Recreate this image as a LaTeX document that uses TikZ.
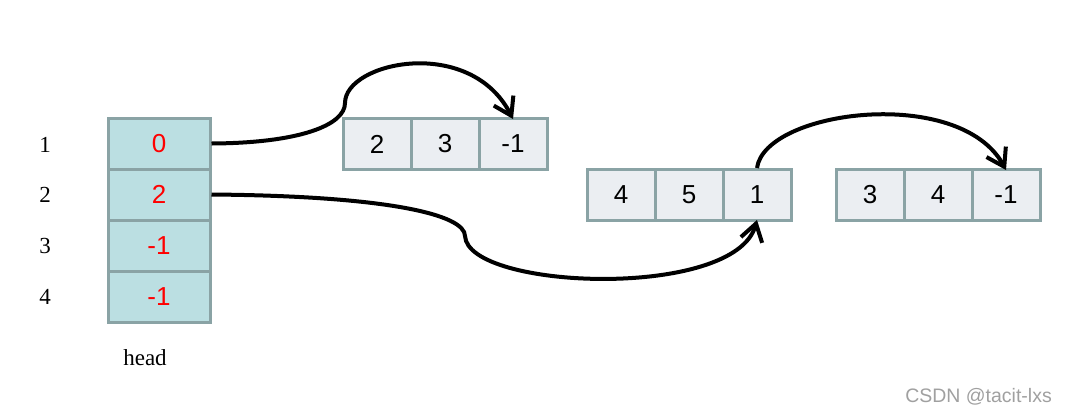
\documentclass[tikz,border=0pt]{standalone}
\usepackage{fontspec}
\setmainfont{Liberation Serif}
\setsansfont{Liberation Sans}
\usetikzlibrary{arrows.meta}
\definecolor{headfill}{HTML}{BBDFE2}
\definecolor{listfill}{HTML}{EBEEF2}
\definecolor{cellline}{HTML}{8AA3A5}
\definecolor{wm}{HTML}{A0A0A0}
\tikzset{
  headcell/.style={draw=cellline, line width=3pt, fill=headfill, minimum width=102pt, minimum height=51pt, inner sep=0pt, text=red, font=\sffamily\fontsize{26}{26}\selectfont},
  listcell/.style={draw=cellline, line width=3pt, fill=listfill, minimum width=68pt, minimum height=51pt, inner sep=0pt, text=black, font=\sffamily\fontsize{26}{26}\selectfont},
  rowlabel/.style={font=\fontsize{23}{23}\selectfont, inner sep=0pt},
  link/.style={line width=4pt, -{Straight Barb[length=17pt,width=22pt]}}
}
\begin{document}
\begin{tikzpicture}[x=1pt,y=-1pt]
\useasboundingbox (0,0) rectangle (1067,413);
% head array
\node[headcell] (h1) at (159,143.5) {0};
\node[headcell] (h2) at (159,194.5) {2};
\node[headcell] (h3) at (159,245.5) {-1};
\node[headcell] (h4) at (159,296.5) {-1};
\node[rowlabel] (r1) at (45,145) {1};
\node[rowlabel] (r2) at (45,195) {2};
\node[rowlabel] (r3) at (45,246) {3};
\node[rowlabel] (r4) at (45,297) {4};
\node[rowlabel] (hl) at (145,358) {head};
% list 1
\node[listcell] (l1a) at (377,144) {2};
\node[listcell] (l1b) at (445,144) {3};
\node[listcell] (l1c) at (513,144) {-1};
% list 2
\node[listcell] (l2a) at (621,195) {4};
\node[listcell] (l2b) at (689,195) {5};
\node[listcell] (l2c) at (757,195) {1};
% list 3
\node[listcell] (l3a) at (870,195) {3};
\node[listcell] (l3b) at (938,195) {4};
\node[listcell] (l3c) at (1006,195) {-1};
% links
\draw[link] (h1.east) .. controls (300,143) and (345,125) .. (345,103)
  .. controls (345,62) and (470,35) .. ([yshift=-2pt]l1c.north);
\draw[link] (h2.east) .. controls (390,196) and (465,215) .. (465,236)
  .. controls (468,290) and (735,300) .. ([yshift=2pt]l2c.south);
\draw[link] (l2c.north) .. controls (765,110) and (960,85) .. ([yshift=-2pt]l3c.north);
% watermark
\node[anchor=east, text=wm, font=\sffamily\fontsize{19.5}{19.5}\selectfont, inner sep=0pt] (wmk) at (1052,397) {CSDN @tacit-lxs};
\end{tikzpicture}
\end{document}
